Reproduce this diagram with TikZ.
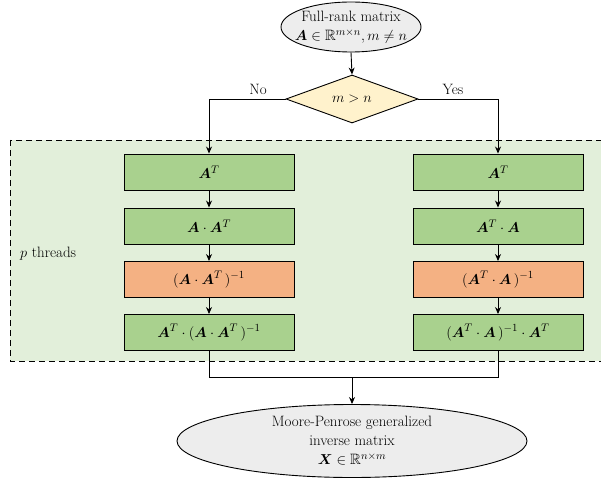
\documentclass[tikz,border=0pt]{standalone}
\usepackage{amsmath,amssymb,bm}
\usetikzlibrary{shapes.geometric,arrows.meta}
\definecolor{boxgreen}{HTML}{A9D18E}
\definecolor{boxorange}{HTML}{F4B183}
\definecolor{diayellow}{HTML}{FFF2CC}
\definecolor{ellgray}{HTML}{EDEDED}
\definecolor{regiongreen}{HTML}{E2EFDA}
\tikzset{
  base/.style={draw=black, line width=0.9pt, font=\fontsize{15}{19}\selectfont, inner sep=0pt},
  gbox/.style={base, rectangle, fill=boxgreen, minimum width=170, minimum height=36},
  obox/.style={base, rectangle, fill=boxorange, minimum width=170, minimum height=36},
  ell/.style={base, ellipse, fill=ellgray, align=center},
  dia/.style={base, diamond, fill=diayellow},
  lbl/.style={font=\fontsize{15}{19}\selectfont, inner sep=0pt},
  conn/.style={line width=0.9pt},
  arr/.style={conn, -{Stealth[length=7pt,width=6pt]}},
  region/.style={draw=black, line width=0.9pt, dash pattern=on 6pt off 4pt, fill=regiongreen}
}
\begin{document}
\begin{tikzpicture}[x=1pt,y=-1pt]
\useasboundingbox (0,0) rectangle (601,481);
\fill[white] (0,0) rectangle (601,481);
\draw[region] (10,140) rectangle (620,361);
\node[lbl, anchor=west] (pt) at (20,254) {$p$ threads};

\node[ell, inner xsep=-9pt, inner ysep=-3pt, minimum width=140, minimum height=50] (top) at (351,27) {Full-rank matrix\\ $\bm{A}\in\mathbb{R}^{m\times n}, m\neq n$};
\node[dia, minimum width=132, minimum height=48] (cond) at (352,99) {$m>n$};
\node[lbl] (no) at (258,89) {No};
\node[lbl] (yes) at (453,89) {Yes};

\node[gbox] (L1) at (209,172) {$\bm{A}^T$};
\node[gbox] (L2) at (209,226) {$\bm{A}\cdot\bm{A}^T$};
\node[obox] (L3) at (209,279.5) {$(\bm{A}\cdot\bm{A}^T\,)^{-1}$};
\node[gbox] (L4) at (209,332.5) {$\bm{A}^T\cdot(\bm{A}\cdot\bm{A}^T\,)^{-1}$};

\node[gbox] (R1) at (498,172) {$\bm{A}^T$};
\node[gbox] (R2) at (498,226) {$\bm{A}^T\cdot\bm{A}$};
\node[obox] (R3) at (498,279.5) {$(\bm{A}^T\cdot\bm{A}\,)^{-1}$};
\node[gbox] (R4) at (498,332.5) {$(\bm{A}^T\cdot\bm{A}\,)^{-1}\cdot\bm{A}^T$};

\node[ell, minimum width=350, minimum height=73] (bot) at (352,441) {Moore-Penrose generalized\\ inverse matrix\\ $\bm{X}\in\mathbb{R}^{n\times m}$};

\coordinate (jl) at (209,377);
\coordinate (jr) at (498,377);
\coordinate (jm) at (352,377);

\draw[arr] (top.south) -- (cond.north);
\draw[arr] (cond.west) -| (L1.north);
\draw[arr] (cond.east) -| (R1.north);
\draw[arr] (L1) -- (L2);
\draw[arr] (L2) -- (L3);
\draw[arr] (L3) -- (L4);
\draw[arr] (R1) -- (R2);
\draw[arr] (R2) -- (R3);
\draw[arr] (R3) -- (R4);
\draw[conn] (L4.south) -- (jl) -- (jr) -- (R4.south);
\draw[arr] (jm) -- (bot.north);
\end{tikzpicture}
\end{document}
